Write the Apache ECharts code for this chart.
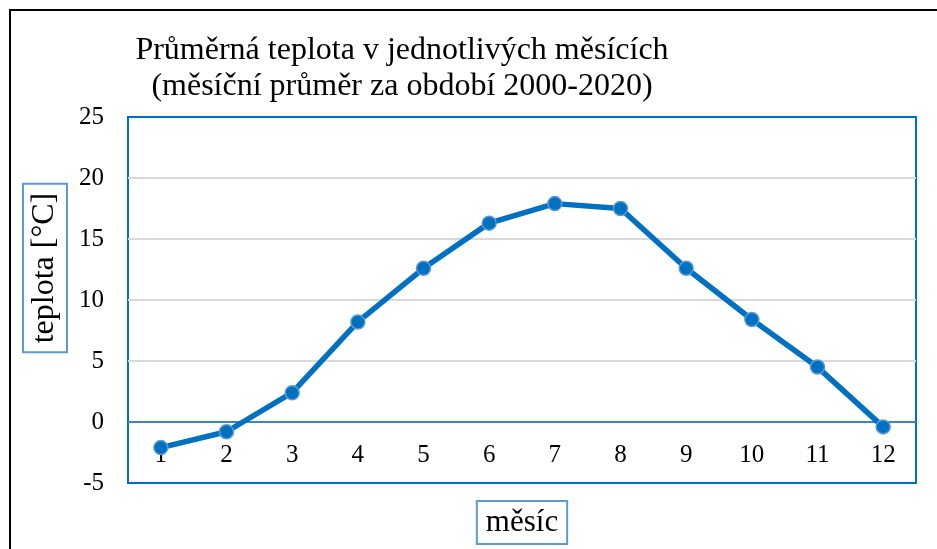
<!DOCTYPE html>
<html>
<head>
<meta charset="utf-8">
<script src="https://cdn.jsdelivr.net/npm/echarts@6/dist/echarts.min.js"></script>
<style>
  html, body { margin: 0; padding: 0; background: #fff; }
  #main { width: 937px; height: 549px; }
</style>
</head>
<body>
<div id="main"></div>
<script>
// data
var months = ['1', '2', '3', '4', '5', '6', '7', '8', '9', '10', '11', '12'];
var avgTemp = [-2.1, -0.8, 2.4, 8.2, 12.6, 16.3, 17.9, 17.5, 12.6, 8.4, 4.5, -0.4];
var yTicks = { min: -5, max: 25, step: 5 };

var titleText = 'Průměrná teplota v jednotlivých měsících\n(měsíční průměr za období 2000-2020)';
var xName = 'měsíc';
var yName = 'teplota [°C]';

var serif = '"Liberation Serif", "Times New Roman", serif';
var blue = '#0070C0';
var boxBlue = '#5B9BD5';

var myChart = echarts.init(document.getElementById('main'));

var option = {
    backgroundColor: '#fff',
    animation: false,
    title: {
        text: titleText,
        left: 402,
        top: 33,
        textAlign: 'center',
        padding: 0,
        textStyle: {
            fontFamily: serif,
            fontWeight: 'normal',
            fontSize: 32,
            lineHeight: 36,
            color: '#000'
        }
    },
    grid: {
        left: 128,
        right: 21,
        top: 117,
        bottom: 66,
        show: true,
        borderColor: blue,
        borderWidth: 2,
        outerBoundsMode: 'none',
        containLabel: false
    },
    xAxis: {
        type: 'category',
        data: months,
        boundaryGap: true,
        name: xName,
        nameLocation: 'middle',
        nameGap: 18,
        nameTextStyle: {
            fontFamily: serif,
            fontSize: 31,
            color: '#000',
            verticalAlign: 'top',
            borderColor: boxBlue,
            borderWidth: 2,
            padding: [6, 9, 6, 9]
        },
        axisLine: { onZero: true, lineStyle: { color: blue, width: 1.5 } },
        axisTick: { show: false },
        axisLabel: {
            margin: -40,
            fontFamily: serif,
            fontSize: 25,
            color: '#000'
        },
        splitLine: { show: false }
    },
    yAxis: {
        type: 'value',
        min: yTicks.min,
        max: yTicks.max,
        interval: yTicks.step,
        axisLine: { show: false },
        axisTick: { show: false },
        axisLabel: {
            margin: 24,
            fontFamily: serif,
            fontSize: 25,
            color: '#000'
        },
        splitLine: { showMinLine: false, showMaxLine: false, lineStyle: { color: '#D9D9D9', width: 2 } }
    },
    graphic: [
        {
            type: 'rect',
            shape: { x: 10, y: 10, width: 940, height: 560 },
            style: { fill: 'none', stroke: '#000', lineWidth: 2 },
            silent: true
        },
        {
            type: 'text',
            x: 45,
            y: 268,
            rotation: Math.PI / 2,
            style: {
                text: yName,
                font: '32px ' + serif,
                fill: '#000',
                align: 'center',
                verticalAlign: 'middle',
                borderColor: boxBlue,
                borderWidth: 2,
                padding: [6, 9, 6, 9]
            },
            silent: true
        }
    ],
    series: [
        {
            name: 'teplota',
            type: 'line',
            data: avgTemp,
            symbol: 'circle',
            symbolSize: 14,
            lineStyle: { color: blue, width: 5.5 },
            itemStyle: { color: blue, borderColor: boxBlue, borderWidth: 1.5 }
        }
    ]
};

myChart.setOption(option);
</script>
</body>
</html>
